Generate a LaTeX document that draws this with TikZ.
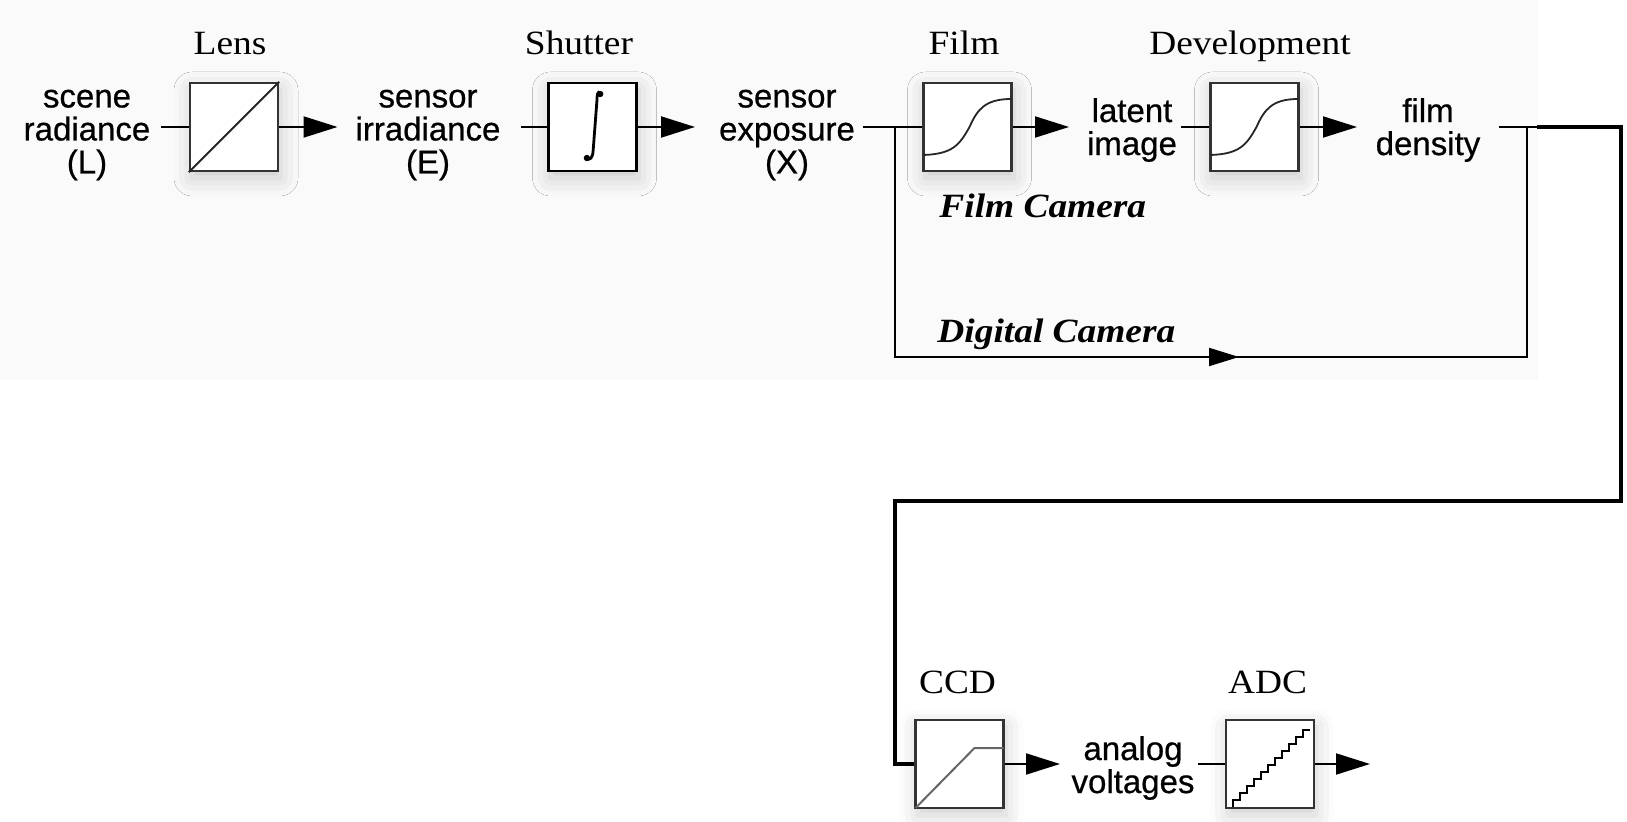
\documentclass[tikz,border=0pt]{standalone}
\usepackage{fontspec}
\usetikzlibrary{arrows.meta,shadows.blur,calc}
\newfontfamily\sansfam{Liberation Sans}[FakeBold=0.6]
\newfontfamily\seriffam{Liberation Serif}[FakeStretch=1.1]
\newcommand\sanslbl{\sansfam\fontsize{16.5pt}{16.5pt}\selectfont}
\newcommand\seriflbl{\seriffam\fontsize{17pt}{20pt}\selectfont}
\begin{document}
\begin{tikzpicture}[x=0.5pt,y=-0.5pt,
  box/.style={draw=black!80, line width=1.2pt, fill=white, minimum width=44pt,
    minimum height=44pt, inner sep=0pt,
    blur shadow={shadow xshift=1pt, shadow yshift=-3.5pt, shadow blur radius=9pt, shadow opacity=20}},
  lbl/.style={font=\sanslbl, align=center, inner sep=0pt},
  ttl/.style={font=\seriflbl, inner sep=0pt, anchor=base},
  cam/.style={font=\seriflbl\bfseries\itshape, inner sep=0pt, anchor=base west},
  ln/.style={line width=1pt},
  thk/.style={line width=2.2pt, line join=miter},
  arr/.style={line width=1pt, -{Triangle[length=17pt,width=10.5pt]}},
  arrs/.style={line width=1pt, -{Triangle[length=15pt,width=9pt]}},
  inner/.style={line width=0.9pt, black!85}]
\useasboundingbox (0,0) rectangle (1627,822);
\fill[black!2] (0,0) rectangle (1538,380);

% blocks
\node[box] (lens) at (234,127) {};
\node[box, draw=black] (shut) at (592.5,127) {};
\node[box] (film) at (967.5,127) {};
\node[box] (dev) at (1254.5,127) {};
\node[box] (ccd) at (959.5,764) {};
\node[box] (adc) at (1270,764) {};

% signal labels
\node[lbl] (scene) at (87,135) {scene\\radiance\\(L)};
\node[lbl] (irr) at (428,135) {sensor\\irradiance\\(E)};
\node[lbl] (expo) at (787,135) {sensor\\exposure\\(X)};
\node[lbl] (lat) at (1132,130) {latent\\image};
\node[lbl] (dens) at (1428,130) {film\\density};
\node[lbl] (ana) at (1133,768) {analog\\voltages};

% block titles
\node[ttl] (tlens) at (230,55) {Lens};
\node[ttl] (tshut) at (579,55) {Shutter};
\node[ttl] (tfilm) at (964,55) {Film};
\node[ttl] (tdev) at (1250,55) {Development};
\node[ttl] (tccd) at (957.5,694) {CCD};
\node[ttl] (tadc) at (1267.5,694) {ADC};
\node[cam] (fcam) at (939,218) {Film Camera};
\node[cam] (dcam) at (937,343) {Digital Camera};

% block symbols
\draw[inner] (lens.south west) -- (lens.north east);
\begin{scope}[shift={(shut.center)}]
  \draw[line width=1.4pt, line cap=round] (7.7,-33.3) .. controls (5,-37) and (4.6,-32) .. (4.4,-26)
    -- (0.6,24) .. controls (0.2,31) and (-3,34) .. (-5.6,31);
  \fill (7.7,-33) circle[radius=1.6pt];
  \fill (-5.6,31) circle[radius=1.6pt];
\end{scope}
\foreach \b in {film,dev}{
  \begin{scope}[shift={(\b.center)}]
    \draw[inner] (-44,28) .. controls (-15,27) and (-8,18) .. (2,0)
      .. controls (10,-18) and (18,-28) .. (44,-28);
  \end{scope}
}
\begin{scope}[shift={(ccd.center)}]
  \draw[line width=1pt, black!60] (-44,44) -- (15,-16) -- (44,-16);
\end{scope}
\begin{scope}[shift={(adc.center)}]
  \draw[line width=1pt] (-37,43) \foreach \i in {1,...,11}{ -- ++(0,-7) -- ++(7,0)};
\end{scope}

% coordinates
\coordinate (s1) at (161,127);
\coordinate (t1) at (337.5,127);
\coordinate (s2) at (521,127);
\coordinate (t2) at (695,127);
\coordinate (s3) at (863,127);
\coordinate (j1) at (894.6,127);
\coordinate (t3) at (1069,127);
\coordinate (s4) at (1181,127);
\coordinate (t4) at (1357,127);
\coordinate (s5) at (1499,127);
\coordinate (k0) at (1537,127);
\coordinate (j2) at (1527,127);
\coordinate (k1) at (1621,127);
\coordinate (k2) at (1621,501);
\coordinate (k3) at (895,501);
\coordinate (k4) at (895,764);
\coordinate (d1) at (894.6,357);
\coordinate (d2) at (1527,357);
\coordinate (dt) at (1239,357);
\coordinate (t5) at (1060,764);
\coordinate (s6) at (1198,764);
\coordinate (t6) at (1370,764);

% connectors
\draw[ln] (s1) -- (lens.west);
\draw[arr] (lens.east) -- (t1);
\draw[ln] (s2) -- (shut.west);
\draw[arr] (shut.east) -- (t2);
\draw[ln] (s3) -- (film.west);
\draw[arr] (film.east) -- (t3);
\draw[ln] (s4) -- (dev.west);
\draw[arr] (dev.east) -- (t4);
\draw[ln] (s5) -- (k0);
\draw[ln] (j1) -- (d1) -- (d2) -- (j2);
\draw[arrs] (d1) -- (dt);
\draw[thk] (k0) -- (k1) -- (k2) -- (k3) -- (k4) -- (ccd.west);
\draw[arr] (ccd.east) -- (t5);
\draw[ln] (s6) -- (adc.west);
\draw[arr] (adc.east) -- (t6);
\end{tikzpicture}
\end{document}
